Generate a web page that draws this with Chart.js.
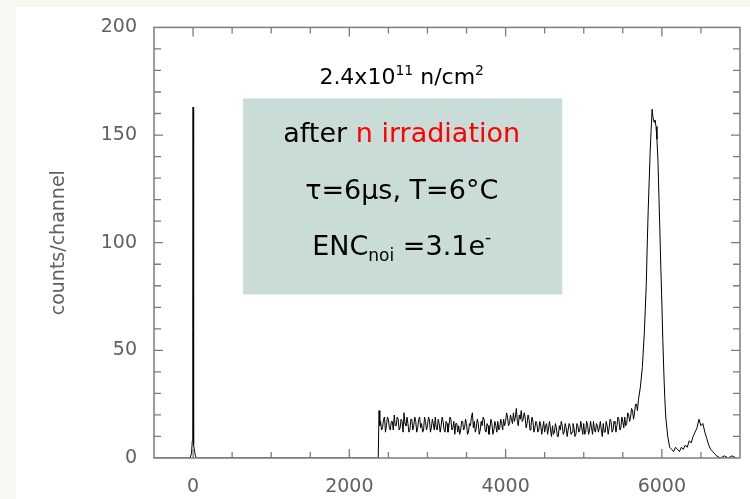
<!DOCTYPE html>
<html><head><meta charset="utf-8">
<script src="https://cdn.jsdelivr.net/npm/chart.js@4.4.0/dist/chart.umd.min.js"></script>
<style>
html,body{margin:0;padding:0;background:#f7f8f2;width:750px;height:499px;overflow:hidden}
#panel{position:absolute;left:16px;top:7px;width:734px;height:492px;background:#fff}
canvas{display:block}
</style></head><body>
<div id="panel"><canvas id="c" width="734" height="492"></canvas></div>
<script>
// ---- data ----
const xTickLabels = [0, 2000, 4000, 6000];
const yTickLabels = [0, 50, 100, 150, 200];

// noise / zero peak and the step at the start of the plateau
const spikeChannels = [-500, -40, -20, -10, -4, 0, 4, 10, 20, 30, 40, 2370, 2380, 2390];
const spikeCounts   = [0, 0, 2, 8, 60, 163, 95, 6, 3, 1, 0, 0, 22, 15];

// flat background: bins every 12.5 channels from 2400 (A = even bins, B = odd bins)
const plateauStart = 2400;
const plateauStep = 25;
const plateauCountsA = [
  17, 14, 19, 15, 18, 13, 17, 20,
  15, 18, 14, 17, 21, 15, 16, 13,
  18, 15, 17, 14, 19, 16, 13, 17,
  15, 18, 14, 16, 19, 13, 16, 15,
  17, 12, 16, 15, 18, 14, 11, 16,
  15, 13, 17, 14, 16, 12, 15, 21,
  17, 14, 16, 13, 15, 18, 12, 15,
  14, 16, 13, 15, 17, 14, 16, 18,
  17, 19, 16, 18, 21, 19, 17, 20,
  22, 18, 19, 16, 18, 15, 17, 14,
  16, 13, 15, 14, 12, 16, 14, 13,
  15, 12, 14, 10, 13, 15, 12, 14,
  13, 15, 12, 14, 11, 15, 13, 14,
  16, 12, 15, 13, 14, 17, 12, 15,
  14, 13, 16, 12, 15, 14, 17, 13,
  16, 15, 18, 14, 17, 19, 16, 20,
  19, 22, 21, 25
];
const plateauCountsB = [
  13, 18, 12, 19, 14, 17, 13, 15,
  19, 13, 18, 12, 16, 19, 12, 18,
  13, 19, 12, 18, 14, 12, 19, 13,
  19, 12, 18, 13, 14, 18, 12, 19,
  13, 17, 12, 19, 13, 17, 16, 12,
  11, 17, 13, 18, 11, 16, 19, 14,
  12, 18, 11, 17, 19, 13, 16, 11,
  18, 11, 17, 12, 13, 18, 13, 15,
  21, 15, 20, 16, 17, 23, 15, 18,
  17, 21, 14, 20, 13, 19, 12, 17,
  12, 17, 11, 17, 15, 11, 17, 10,
  11, 16, 10, 15, 17, 11, 16, 10,
  16, 11, 16, 10, 16, 12, 17, 11,
  11, 17, 11, 17, 11, 13, 16, 12,
  17, 10, 12, 17, 11, 18, 12, 17,
  12, 19, 13, 19, 14, 15, 21, 17,
  23, 18, 25, 22
];

// main peak, valley, second peak and tail
const peakChannels = [5700,5725,5750,5775,5800,
  5812,5825,5837,5850,5862,5875,5887,5900,5912,5925,5937,5950,5962,5975,5987,6000,6012,6025,6037,6050,
  6075,6100,6125,6150,6175,6200,6225,6250,6275,6300,6325,6350,6375,6400,6425,6450,6475,6500,6525,6550,6575,6600,6625,6650,6675,6700,
  6750,6800,6850,6900,6950];
const peakCounts = [27,33,42,58,80,
  98,115,128,142,152,162,158,156,157,154,148,138,122,105,88,72,55,40,28,19,
  10,5,4,3,5,4,3,5,4,6,5,8,7,10,12,14,18,15,16,12,9,6,4,3,2,1,
  0,1,0,1,0];

const axisTitle = 'counts/channel';
const noteLines = [
  [{t:'2.4x10', s:22}, {t:'11', s:14, dy:-9}, {t:' n/cm', s:22}, {t:'2', s:14, dy:-9}],
  [{t:'after ', s:27}, {t:'n irradiation', s:27, c:'#ff0000'}],
  [{t:'\u03c4=6\u03bcs, T=6\u00b0C', s:27}],
  [{t:'ENC', s:27}, {t:'noi', s:17, dy:6}, {t:' =3.1e', s:27}, {t:'-', s:17, dy:-12}]
];
const noteBaselines = [173.9, 147, 120.4, 94.4];   // y values (counts)
const noteCenter = 2670;                            // x value (channel)
const noteBox = {x0: 640, x1: 4725, y0: 76, y1: 167};

// ---- build points ----
const points = [];
spikeChannels.forEach((c, i) => points.push({x: c, y: spikeCounts[i]}));
plateauCountsA.forEach((v, i) => {
  points.push({x: plateauStart + i * plateauStep, y: v});
  points.push({x: plateauStart + i * plateauStep + plateauStep / 2, y: plateauCountsB[i]});
});
peakChannels.forEach((c, i) => points.push({x: c, y: peakCounts[i]}));

const FONT = "'DejaVu Sans', sans-serif";

const notes = {
  id: 'notes',
  beforeDatasetsDraw(chart) {
    const {ctx, scales: {x, y}} = chart;
    ctx.save();
    const bx0 = x.getPixelForValue(noteBox.x0), bx1 = x.getPixelForValue(noteBox.x1);
    const by0 = y.getPixelForValue(noteBox.y1), by1 = y.getPixelForValue(noteBox.y0);
    ctx.fillStyle = '#c9dcd8';
    ctx.fillRect(bx0, by0, bx1 - bx0, by1 - by0);
    const cx = x.getPixelForValue(noteCenter);
    ctx.textBaseline = 'alphabetic';
    ctx.textAlign = 'left';
    noteLines.forEach((runs, li) => {
      const base = y.getPixelForValue(noteBaselines[li]);
      let w = 0;
      runs.forEach(r => { ctx.font = r.s + 'px ' + FONT; w += ctx.measureText(r.t).width; });
      let px = cx - w / 2;
      runs.forEach(r => {
        ctx.font = r.s + 'px ' + FONT;
        ctx.fillStyle = r.c || '#000';
        ctx.fillText(r.t, px, base + (r.dy || 0));
        px += ctx.measureText(r.t).width;
      });
    });
    ctx.restore();
  }
};

const frame = {
  id: 'frame',
  afterDraw(chart) {
    const {ctx, chartArea: a, scales: {x, y}} = chart;
    ctx.save();
    ctx.strokeStyle = '#7c7c7c';
    ctx.lineWidth = 1.5;
    ctx.strokeRect(a.left, a.top, a.right - a.left, a.bottom - a.top);
    ctx.lineWidth = 1.3;
    ctx.beginPath();
    x.ticks.forEach(t => {
      const p = x.getPixelForValue(t.value);
      if (p <= a.left + 1 || p >= a.right - 1) return;
      const len = xTickLabels.includes(t.value) ? 9 : 6;
      ctx.moveTo(p, a.bottom); ctx.lineTo(p, a.bottom - len);
      ctx.moveTo(p, a.top); ctx.lineTo(p, a.top + len);
    });
    y.ticks.forEach(t => {
      const p = y.getPixelForValue(t.value);
      if (p <= a.top + 1 || p >= a.bottom - 1) return;
      const len = yTickLabels.includes(t.value) ? 9 : 7;
      ctx.moveTo(a.left, p); ctx.lineTo(a.left + len, p);
      ctx.moveTo(a.right, p); ctx.lineTo(a.right - len, p);
    });
    ctx.stroke();
    ctx.restore();
  }
};

new Chart(document.getElementById('c'), {
  type: 'line',
  data: {datasets: [{
    data: points,
    borderColor: '#000',
    borderWidth: 1,
    pointRadius: 0,
    tension: 0,
    fill: false
  }]},
  options: {
    responsive: false,
    animation: false,
    events: [],
    layout: {padding: {top: 14, right: 9, left: 0, bottom: 0}},
    plugins: {legend: {display: false}, tooltip: {enabled: false}},
    scales: {
      x: {
        type: 'linear', min: -500, max: 7000,
        grid: {display: false}, border: {display: false},
        ticks: {
          stepSize: 500, autoSkip: false, maxRotation: 0, padding: 10,
          color: '#606060', font: {family: FONT, size: 19},
          callback: v => xTickLabels.includes(v) ? String(v) : ''
        },
        afterFit: s => { s.height = 41; }
      },
      y: {
        type: 'linear', min: 0, max: 200,
        grid: {display: false}, border: {display: false},
        ticks: {
          stepSize: 10, autoSkip: false, padding: 9,
          color: '#606060', font: {family: FONT, size: 19},
          callback: v => yTickLabels.includes(v) ? String(v) : ''
        },
        title: {display: true, text: axisTitle, color: '#606060',
                font: {family: FONT, size: 19}, padding: {top: 32, bottom: 0}},
        afterFit: s => { s.width = 138; }
      }
    }
  },
  plugins: [notes, frame]
});
</script>
</body></html>
